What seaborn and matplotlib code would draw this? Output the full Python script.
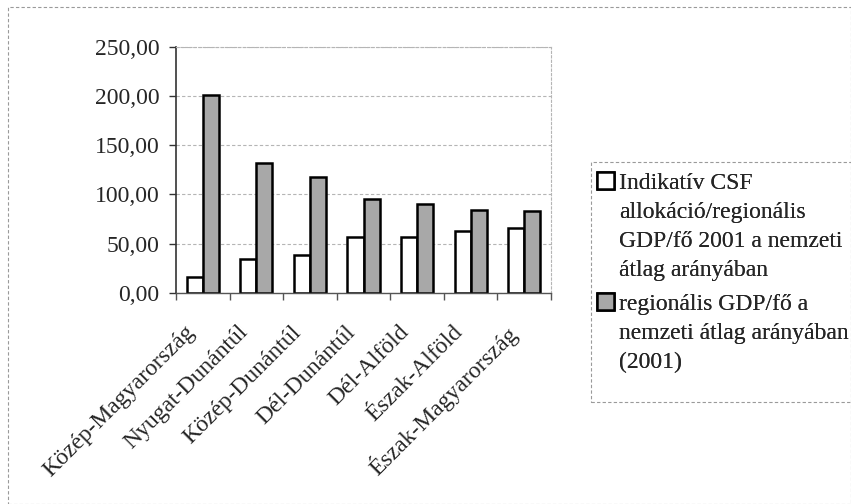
import pandas as pd
import seaborn as sns
import matplotlib.pyplot as plt
import matplotlib.transforms as mtransforms
from matplotlib.patches import Rectangle, Patch
from matplotlib.ticker import FuncFormatter

# Regions (x axis)
REGIONS = ["Közép-Magyarország", "Nyugat-Dunántúl", "Közép-Dunántúl",
           "Dél-Dunántúl", "Dél-Alföld", "Észak-Alföld", "Észak-Magyarország"]

# Series values
csf_alloc = [16, 34, 39, 57, 57, 63, 66]
gdp_per_capita = [201, 132, 118, 95, 90, 84, 83]

SERIES = ["Indikatív CSF\nallokáció/regionális\nGDP/fő 2001 a nemzeti\nátlag arányában",
          "regionális GDP/fő a\nnemzeti átlag arányában\n(2001)"]

df = pd.concat([
    pd.DataFrame({"region": REGIONS, "value": csf_alloc, "series": SERIES[0]}),
    pd.DataFrame({"region": REGIONS, "value": gdp_per_capita, "series": SERIES[1]}),
], ignore_index=True)

sns.set_style("white")
plt.rcParams['font.family'] = ['Liberation Serif', 'DejaVu Serif']
FS = 17

fig = plt.figure(figsize=(8.51, 5.04), dpi=100)
W, H = 851, 504
ax = fig.add_axes([176 / W, 1 - 293 / H, (551 - 176) / W, (293 - 46.5) / H])

colors = ["white", "#a8a8a8"]
sns.barplot(data=df, x="region", y="value", hue="series", order=REGIONS,
            hue_order=SERIES, palette=colors, width=0.6, gap=0,
            edgecolor="black", linewidth=1.8, ax=ax, legend=False)

ax.set_ylim(0, 250)
ax.set_xlim(-0.5, len(REGIONS) - 0.5)
ax.set_yticks([0, 50, 100, 150, 200, 250])
ax.yaxis.set_major_formatter(FuncFormatter(lambda v, p: f"{v:.2f}".replace(".", ",")))
ax.set_xlabel("")
ax.set_ylabel("")

# grid + frame like the spreadsheet chart
ax.set_axisbelow(True)
ax.yaxis.grid(True, linestyle=(0, (3, 2)), color="#b5b5b5", linewidth=0.8)
ax.spines["left"].set_color("#333333")
ax.spines["left"].set_linewidth(1.2)
ax.spines["bottom"].set_color("#555555")
ax.spines["bottom"].set_linewidth(1.0)
for s in ("top", "right"):
    ax.spines[s].set_color("#b5b5b5")
    ax.spines[s].set_linewidth(0.8)
    ax.spines[s].set_linestyle((0, (2, 2)))

ax.tick_params(axis="y", labelsize=FS, length=5, width=1, color="#333333",
               direction="out", left=True, pad=7)
# x ticks sit between categories
ax.set_xticks([i - 0.5 for i in range(len(REGIONS) + 1)], minor=True)
ax.tick_params(axis="x", which="minor", length=5, width=1, color="#555555",
               direction="out", bottom=True)
ax.tick_params(axis="x", which="major", length=0, labelsize=FS, pad=12)
shift = mtransforms.ScaledTranslation(-0.19, -0.12, fig.dpi_scale_trans)
for lbl in ax.get_xticklabels():
    lbl.set_rotation(45)
    lbl.set_ha("right")
    lbl.set_rotation_mode("anchor")
    lbl.set_transform(lbl.get_transform() + shift)

# outer chart border
fig.patches.append(Rectangle((8 / W, 0.5 / H), (W - 8) / W, (H - 7.5) / H,
                             transform=fig.transFigure, fill=False,
                             edgecolor="#9a9a9a", linewidth=0.8,
                             linestyle=(0, (3, 2))))
# legend box (runs off the right edge)
fig.patches.append(Rectangle((591 / W, 1 - 402 / H), 300 / W, 240 / H,
                             transform=fig.transFigure, fill=False,
                             edgecolor="#9a9a9a", linewidth=0.8,
                             linestyle=(0, (3, 2))))

# one legend per series, one entry per text line so the swatch sits on the first line
blank = Patch(facecolor="none", edgecolor="none")
tops = [172, 293]
for color, label, top in zip(colors, SERIES, tops):
    lines = label.split("\n")
    handles = [Patch(facecolor=color, edgecolor="black", linewidth=1.8)] + [blank] * (len(lines) - 1)
    leg = fig.legend(handles, lines, loc="upper left",
                     bbox_to_anchor=(597 / W, 1 - top / H), frameon=False,
                     fontsize=FS, handlelength=0.7, handleheight=0.7,
                     handletextpad=0.25, labelspacing=0.32, borderpad=0,
                     borderaxespad=0)
    fig.add_artist(leg)

fig.savefig("out.png", dpi=100)
